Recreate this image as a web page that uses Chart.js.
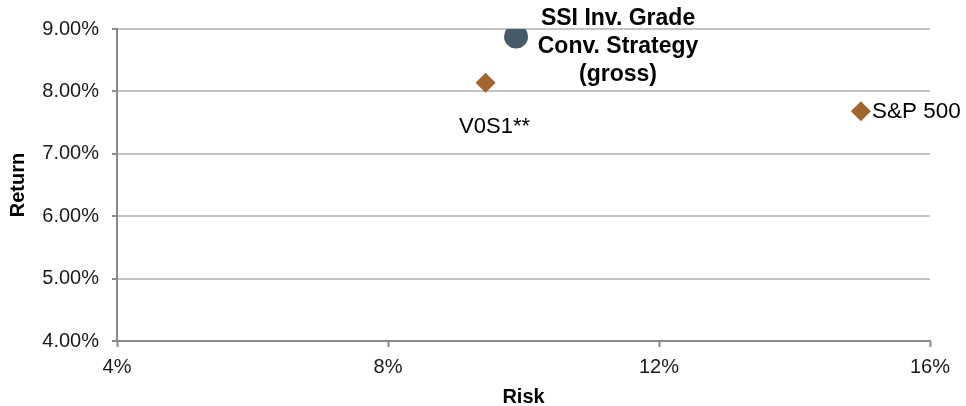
<!DOCTYPE html>
<html>
<head>
<meta charset="utf-8">
<script src="https://cdn.jsdelivr.net/npm/chart.js@4"></script>
<style>
html,body{margin:0;padding:0;background:#fff;}
#wrap{width:966px;height:406px;position:relative;}
</style>
</head>
<body>
<div id="wrap"><canvas id="c" width="966" height="406"></canvas></div>
<script>
const seriesNames = ["SSI Inv. Grade Conv. Strategy (gross)", "V0S1**", "S&P 500"];
const riskValues = [9.89, 9.44, 14.98];
const returnValues = [8.88, 8.14, 7.68];
const xTicks = [4, 8, 12, 16];
const yTicks = [4, 5, 6, 7, 8, 9];
const pointLabels = [["SSI Inv. Grade", "Conv. Strategy", "(gross)"], ["V0S1**"], ["S&P 500"]];

const circleColor = "#475a68";
const diamondColor = "#a3652e";

const labelPlugin = {
  id: "pointLabels",
  afterDatasetsDraw(chart) {
    const ctx = chart.ctx;
    const xs = chart.scales.x, ys = chart.scales.y;
    ctx.save();
    ctx.fillStyle = "#000";
    ctx.textBaseline = "middle";
    // SSI label (bold, centered to the right of the point)
    let px = xs.getPixelForValue(riskValues[0]);
    let py = ys.getPixelForValue(returnValues[0]);
    ctx.font = "bold 23px 'Liberation Sans', Arial, sans-serif";
    ctx.textAlign = "center";
    pointLabels[0].forEach((t, i) => ctx.fillText(t, px + 102, py - 18 + i * 28));
    // V0S1 label (below)
    px = xs.getPixelForValue(riskValues[1]);
    py = ys.getPixelForValue(returnValues[1]);
    ctx.font = "22px 'Liberation Sans', Arial, sans-serif";
    ctx.fillText(pointLabels[1][0], px + 9, py + 44);
    // S&P label (right)
    px = xs.getPixelForValue(riskValues[2]);
    py = ys.getPixelForValue(returnValues[2]);
    ctx.textAlign = "left";
    ctx.font = "22.5px 'Liberation Sans', Arial, sans-serif";
    ctx.fillText(pointLabels[2][0], px + 11, py);
    ctx.restore();
  }
};

const tickFont = {family: "'Liberation Sans', Arial, sans-serif", size: 20};
const titleFont = {family: "'Liberation Sans', Arial, sans-serif", size: 20, weight: "bold"};

new Chart(document.getElementById("c"), {
  type: "scatter",
  data: {
    datasets: [
      {
        label: seriesNames[0],
        data: [{x: riskValues[0], y: returnValues[0]}],
        pointStyle: "circle",
        pointRadius: 12,
        pointBackgroundColor: circleColor,
        pointBorderColor: circleColor,
        pointBorderWidth: 0
      },
      {
        label: seriesNames[1],
        data: [{x: riskValues[1], y: returnValues[1]}],
        pointStyle: "rectRot",
        pointRadius: 10,
        pointBackgroundColor: diamondColor,
        pointBorderColor: diamondColor,
        pointBorderWidth: 0
      },
      {
        label: seriesNames[2],
        data: [{x: riskValues[2], y: returnValues[2]}],
        pointStyle: "rectRot",
        pointRadius: 10,
        pointBackgroundColor: diamondColor,
        pointBorderColor: diamondColor,
        pointBorderWidth: 0
      }
    ]
  },
  options: {
    responsive: false,
    animation: false,
    events: [],
    layout: {padding: {left: 0, right: 36, top: 29, bottom: 0}},
    plugins: {legend: {display: false}, tooltip: {enabled: false}},
    scales: {
      x: {
        type: "linear",
        min: 4, max: 16,
        afterFit(scale) { scale.height = 65; },
        afterBuildTicks(scale) { scale.ticks = xTicks.map(v => ({value: v})); },
        ticks: {
          color: "#1a1a1a",
          font: tickFont,
          padding: 8,
          maxRotation: 0,
          callback: v => v + "%"
        },
        grid: {
          drawOnChartArea: false,
          drawTicks: true,
          tickLength: 6,
          tickColor: "#8a8a8a",
          tickWidth: 2
        },
        border: {display: true, color: "#8a8a8a", width: 2},
        title: {display: true, text: "Risk", color: "#000", font: titleFont, padding: {top: 0, bottom: -3}}
      },
      y: {
        type: "linear",
        min: 4, max: 9,
        afterFit(scale) { scale.width = 117; },
        afterBuildTicks(scale) { scale.ticks = yTicks.map(v => ({value: v})); },
        ticks: {
          color: "#1a1a1a",
          font: tickFont,
          padding: 13,
          callback: v => v.toFixed(2) + "%"
        },
        grid: {
          color: "#c4c4c4",
          lineWidth: 2,
          drawTicks: true,
          tickLength: 5,
          tickColor: "#8a8a8a",
          tickWidth: 2
        },
        border: {display: true, color: "#8a8a8a", width: 2},
        title: {display: true, text: "Return", color: "#000", font: titleFont, padding: {top: 6, bottom: 0}}
      }
    }
  },
  plugins: [labelPlugin]
});
</script>
</body>
</html>
